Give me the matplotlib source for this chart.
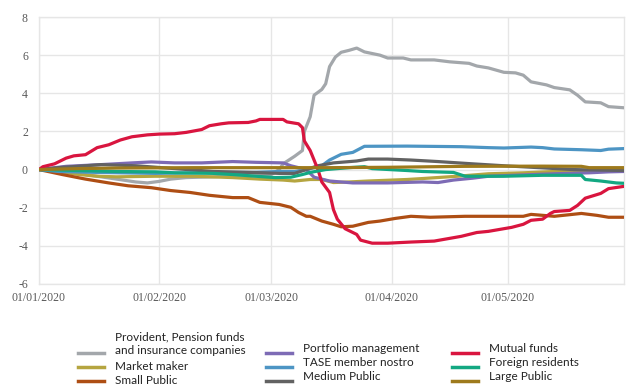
import numpy as np
import pandas as pd
import matplotlib
matplotlib.use("Agg")
import matplotlib.pyplot as plt
import matplotlib.dates as mdates
from matplotlib.lines import Line2D

plt.rcParams["axes.unicode_minus"] = False

BASE_DATE = "2020-01-01"  # day offsets below are days since this date

provident_days = [0, 5, 10, 15, 20, 25, 28, 31, 34, 38, 45, 52, 56, 60, 62, 63, 66, 68, 68.5, 70, 71, 73, 74, 75, 76.5, 78, 80, 82, 84, 88, 90, 94, 96, 102, 106, 111, 113, 116, 120, 123, 125, 127, 131, 133, 137, 139, 141, 145, 147, 151]
provident_vals = [0, -0.1, -0.2, -0.35, -0.5, -0.65, -0.7, -0.62, -0.5, -0.42, -0.38, -0.3, -0.28, -0.25, 0.0, 0.3, 0.7, 1.0, 2.0, 2.77, 3.9, 4.2, 4.5, 5.4, 5.9, 6.15, 6.25, 6.37, 6.17, 6.0, 5.85, 5.85, 5.75, 5.75, 5.65, 5.57, 5.43, 5.33, 5.1, 5.07, 4.95, 4.6, 4.44, 4.3, 4.18, 3.9, 3.55, 3.5, 3.3, 3.24]

market_days = [0, 5, 10, 15, 20, 30, 40, 50, 57, 63, 66, 70, 73, 76, 80, 85, 95, 99, 108, 116, 125, 133, 142, 151]
market_vals = [0, -0.1, -0.25, -0.35, -0.38, -0.35, -0.35, -0.42, -0.5, -0.55, -0.6, -0.52, -0.52, -0.68, -0.65, -0.6, -0.52, -0.47, -0.35, -0.22, -0.17, -0.1, -0.05, -0.07]

small_days = [0, 6, 12, 18, 23, 29, 34, 39, 44, 50, 54, 57, 62, 65, 67, 69, 70, 73, 76, 78, 81, 85, 88, 92, 96, 101, 110, 125, 127, 133, 140, 144, 147, 151]
small_vals = [0, -0.26, -0.5, -0.7, -0.85, -0.95, -1.1, -1.2, -1.35, -1.47, -1.47, -1.72, -1.83, -1.98, -2.25, -2.45, -2.45, -2.7, -2.87, -3.0, -2.97, -2.77, -2.7, -2.56, -2.45, -2.5, -2.45, -2.45, -2.35, -2.45, -2.3, -2.4, -2.5, -2.5]

portfolio_days = [0, 7, 16, 24, 29, 35, 42, 50, 56, 63, 65, 69, 71, 75, 81, 90, 99, 103, 107, 112, 116, 125, 133, 142, 147, 151]
portfolio_vals = [0, 0.17, 0.26, 0.35, 0.4, 0.35, 0.35, 0.42, 0.38, 0.35, 0.2, 0.0, -0.4, -0.6, -0.7, -0.7, -0.65, -0.68, -0.55, -0.45, -0.35, -0.28, -0.22, -0.17, -0.12, -0.1]

tase_days = [0, 5, 15, 30, 45, 55, 62, 66, 69, 71, 73, 75, 78, 81, 84, 95, 109, 116, 120, 127, 130, 133, 140, 145, 147, 151]
tase_vals = [0, -0.1, -0.15, -0.2, -0.15, -0.15, -0.1, -0.1, 0.0, 0.1, 0.2, 0.5, 0.8, 0.9, 1.22, 1.23, 1.2, 1.15, 1.13, 1.18, 1.15, 1.08, 1.04, 1.0, 1.07, 1.1]

medium_days = [0, 5, 12, 16, 25, 35, 45, 55, 62, 66, 69, 72, 76, 82, 85, 90, 96, 103, 112, 120, 129, 138, 151]
medium_vals = [0, 0.1, 0.2, 0.26, 0.2, 0.05, -0.1, -0.15, -0.2, -0.2, 0.0, 0.2, 0.35, 0.45, 0.55, 0.55, 0.5, 0.42, 0.3, 0.2, 0.1, 0.0, -0.05]

mutual_days = [0, 1, 4, 7, 9, 12, 15, 18, 21, 24, 28, 31, 35, 38, 42, 44, 47, 49, 54, 56, 57, 63, 64, 67, 68, 68.5, 70, 71, 72, 73, 75, 76, 77, 79, 82, 83, 86, 90, 96, 102, 109, 113, 116, 122, 125, 127, 130, 132, 133, 137, 139, 141, 145, 147, 151]
mutual_vals = [0, 0.15, 0.3, 0.6, 0.72, 0.78, 1.15, 1.3, 1.55, 1.72, 1.82, 1.86, 1.88, 1.95, 2.1, 2.3, 2.4, 2.45, 2.47, 2.55, 2.63, 2.63, 2.5, 2.4, 2.2, 1.5, 1.0, 0.5, 0.0, -0.65, -1.2, -2.1, -2.6, -3.1, -3.4, -3.7, -3.86, -3.86, -3.8, -3.75, -3.5, -3.3, -3.24, -3.03, -2.87, -2.66, -2.6, -2.3, -2.2, -2.14, -1.88, -1.5, -1.25, -1.0, -0.88]

foreign_days = [0, 10, 20, 30, 35, 45, 50, 56, 61, 65, 68, 70, 74, 80, 84, 86, 95, 99, 107, 110, 120, 130, 140, 141, 145, 149, 151]
foreign_vals = [0, -0.05, -0.1, -0.12, -0.17, -0.2, -0.26, -0.35, -0.42, -0.4, -0.26, -0.15, 0.0, 0.1, 0.15, 0.05, -0.05, -0.1, -0.15, -0.35, -0.35, -0.3, -0.3, -0.52, -0.6, -0.7, -0.72]

large_days = [0, 10, 20, 40, 60, 75, 90, 110, 130, 140, 142, 151]
large_vals = [0, 0.05, 0.08, 0.1, 0.1, 0.1, 0.12, 0.17, 0.18, 0.17, 0.1, 0.1]

series_labels = ["Provident, Pension funds\nand insurance companies", "Market maker", "Small Public",
                 "Portfolio management", "TASE member nostro", "Medium Public",
                 "Mutual funds", "Foreign residents", "Large Public"]
series_colors = ["#A3A7AB", "#B5A540", "#AE4E14",
                 "#7D6BB5", "#4D95C4", "#626262",
                 "#D9153F", "#13A882", "#9E7A1C"]
series_data = [(provident_days, provident_vals), (market_days, market_vals), (small_days, small_vals),
               (portfolio_days, portfolio_vals), (tase_days, tase_vals), (medium_days, medium_vals),
               (mutual_days, mutual_vals), (foreign_days, foreign_vals), (large_days, large_vals)]

y_ticks = [-6, -4, -2, 0, 2, 4, 6, 8]
x_tick_dates = ["2020-01-01", "2020-02-01", "2020-03-01", "2020-04-01", "2020-05-01"]
x_end = "2020-05-31"

W, H = 640, 389
fig = plt.figure(figsize=(W / 100, H / 100), dpi=100)
def fx(px): return px / W
def fy(py): return 1 - py / H

ax = fig.add_axes([fx(39), fy(284), fx(624) - fx(39), fy(17) - fy(284)])

base = pd.Timestamp(BASE_DATE)
draw_order = [0, 3, 1, 4, 7, 5, 2, 6, 8]
for i in draw_order:
    d, v = series_data[i]
    dates = base + pd.to_timedelta(np.array(d, dtype=float), unit="D")
    ax.plot(dates, v, color=series_colors[i], lw=2.3, solid_joinstyle="round", solid_capstyle="round", zorder=3 + i * 0.01)

ax.set_xlim(pd.Timestamp(BASE_DATE), pd.Timestamp(x_end))
ax.set_ylim(-6, 8)
ax.set_yticks(y_ticks)
ax.set_xticks([pd.Timestamp(t) for t in x_tick_dates])
ax.xaxis.set_major_formatter(mdates.DateFormatter("%d/%m/%Y"))
grid_c = "#E6E6E6"
ax.grid(True, color=grid_c, lw=1.0, zorder=0)
for s in ax.spines.values():
    s.set_color(grid_c)
    s.set_linewidth(1.0)
ax.tick_params(length=0, labelsize=8.5, labelcolor="#595959")
ax.tick_params(axis="y", pad=8)
ax.tick_params(axis="x", pad=6)
for lab in ax.get_xticklabels() + ax.get_yticklabels():
    lab.set_fontfamily("Liberation Serif")

# legend
handle_x = [(78, 104), (266, 292), (452, 478)]
text_x = [115, 303, 489]
handle_y = [353, 367, 381]
text_y = [[344, 366, 381], [348, 362, 377], [348, 362, 377]]
for k in range(9):
    c, r = divmod(k, 3)
    x0, x1 = handle_x[c]
    fig.add_artist(Line2D([fx(x0), fx(x1)], [fy(handle_y[r])] * 2, transform=fig.transFigure,
                          color=series_colors[k], lw=2.5))
    fig.text(fx(text_x[c]), fy(text_y[c][r]), series_labels[k], va="center", ha="left",
             fontsize=8.5, family="Lato", color="#222222", linespacing=1.25)

fig.savefig("out.png", dpi=100)
